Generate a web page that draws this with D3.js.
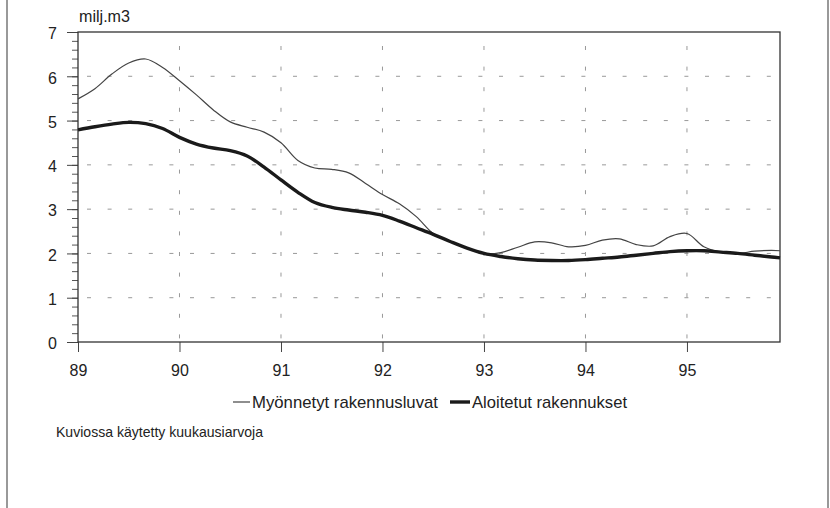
<!DOCTYPE html>
<html><head><meta charset="utf-8">
<script src="https://cdn.jsdelivr.net/npm/d3@7"></script>
<style>
html,body{margin:0;padding:0;background:#fff;}
svg{display:block;font-family:"Liberation Sans",Arial,Helvetica,sans-serif;}
</style></head>
<body>
<svg id="c" width="830" height="508"></svg>
<script>
// Month index from Jan 1989 (0) to Dec 1995 (83)
const months = [0,2,4,6,8,10,12,14,16,18,20,22,24,26,28,30,32,34,36,38,40,42,44,46,48,50,52,54,56,58,60,62,64,66,68,70,72,74,76,78,80,82,83];
const permits = [5.49,5.72,6.05,6.30,6.39,6.20,5.90,5.58,5.24,4.97,4.85,4.74,4.50,4.10,3.93,3.90,3.82,3.58,3.33,3.12,2.83,2.45,2.27,2.12,2.00,2.02,2.14,2.26,2.24,2.15,2.18,2.30,2.33,2.20,2.17,2.38,2.45,2.15,2.03,2.00,2.05,2.07,2.06];
const starts  = [4.79,4.86,4.92,4.96,4.93,4.82,4.62,4.47,4.38,4.32,4.20,3.95,3.66,3.38,3.15,3.04,2.98,2.93,2.86,2.73,2.58,2.43,2.27,2.12,2.00,1.93,1.88,1.85,1.84,1.84,1.86,1.89,1.92,1.96,2.00,2.04,2.06,2.06,2.03,2.00,1.96,1.92,1.90];
const yearTicks = [0,12,24,36,48,60,72];
const yearLabels = ["89","90","91","92","93","94","95"];
const seriesNames = ["Myönnetyt rakennusluvat","Aloitetut rakennukset"];
const unitLabel = "milj.m3";
const footnote = "Kuviossa käytetty kuukausiarvoja";

const svg = d3.select("#c");
const L = 78, R = 780, T = 32, B = 342;
const x = d3.scaleLinear().domain([0,83]).range([L,R]);
const y = d3.scaleLinear().domain([0,7]).range([B,T]);

// outer border (vertical sides)
svg.append("line").attr("x1",7).attr("x2",7).attr("y1",0).attr("y2",508).attr("stroke","#777").attr("stroke-width",1.5);
svg.append("line").attr("x1",828).attr("x2",828).attr("y1",0).attr("y2",508).attr("stroke","#777").attr("stroke-width",1.5);

// grid
const g = svg.append("g");
g.selectAll(".hg").data(d3.range(1,7)).join("line")
  .attr("x1",L).attr("x2",R).attr("y1",d=>y(d)).attr("y2",d=>y(d))
  .attr("stroke","#999").attr("stroke-width",1).attr("stroke-dasharray","4,16.6").attr("stroke-dashoffset",-9);
g.selectAll(".vg").data(yearTicks.slice(1)).join("line")
  .attr("x1",d=>x(d)).attr("x2",d=>x(d)).attr("y1",T).attr("y2",B)
  .attr("stroke","#999").attr("stroke-width",1).attr("stroke-dasharray","4,16.6").attr("stroke-dashoffset",-14);

// y axis with minor ticks
const yMinor = d3.axisLeft(y).tickValues(d3.range(0,7.01,0.2)).tickSize(6).tickFormat("");
svg.append("g").attr("transform",`translate(${L},0)`).call(yMinor)
  .call(s=>s.select(".domain").remove())
  .call(s=>s.selectAll("line").attr("stroke","#555").attr("stroke-width",1));
const yAxis = d3.axisLeft(y).tickValues(d3.range(0,8)).tickSize(11).tickPadding(10).tickFormat(d3.format("d"));
svg.append("g").attr("transform",`translate(${L},0)`).call(yAxis)
  .call(s=>s.select(".domain").remove())
  .call(s=>s.selectAll("line").attr("stroke","#444").attr("stroke-width",1))
  .call(s=>s.selectAll("text").attr("font-size",16).attr("fill","#222").attr("font-family","Liberation Sans, Arial, sans-serif").attr("dy","0.42em"));

// x axis
const xAxis = d3.axisBottom(x).tickValues(yearTicks).tickSize(10).tickPadding(13).tickFormat((d,i)=>yearLabels[i]);
svg.append("g").attr("transform",`translate(0,${B})`).call(xAxis)
  .call(s=>s.select(".domain").remove())
  .call(s=>s.selectAll("line").attr("stroke","#444").attr("stroke-width",1))
  .call(s=>s.selectAll("text").attr("font-size",16).attr("fill","#222").attr("font-family","Liberation Sans, Arial, sans-serif"));

// frame
svg.append("rect").attr("x",L).attr("y",T).attr("width",R-L).attr("height",B-T)
  .attr("fill","none").attr("stroke","#333").attr("stroke-width",1.3);

// lines
const line = d3.line().x((d,i)=>x(months[i])).y(d=>y(d)).curve(d3.curveCatmullRom.alpha(0.5));
svg.append("path").datum(permits).attr("d",line).attr("fill","none").attr("stroke","#444").attr("stroke-width",1.2);
svg.append("path").datum(starts).attr("d",line).attr("fill","none").attr("stroke","#1a1a1a").attr("stroke-width",3.4).attr("stroke-linejoin","round");

// unit label
svg.append("text").attr("x",79).attr("y",22).attr("font-size",16).attr("fill","#222")
  .attr("textLength",51).attr("lengthAdjust","spacingAndGlyphs").text(unitLabel);

// legend
const leg = svg.append("g");
leg.append("line").attr("x1",233).attr("x2",250).attr("y1",402).attr("y2",402).attr("stroke","#444").attr("stroke-width",1.2);
leg.append("text").attr("x",252).attr("y",408).attr("font-size",17).attr("fill","#222")
  .attr("textLength",186).attr("lengthAdjust","spacingAndGlyphs").text(seriesNames[0]);
leg.append("line").attr("x1",450).attr("x2",470).attr("y1",402).attr("y2",402).attr("stroke","#1a1a1a").attr("stroke-width",3.4);
leg.append("text").attr("x",472).attr("y",408).attr("font-size",17).attr("fill","#222")
  .attr("textLength",155).attr("lengthAdjust","spacingAndGlyphs").text(seriesNames[1]);

// footnote
svg.append("text").attr("x",56).attr("y",437).attr("font-size",14.5).attr("fill","#222")
  .attr("textLength",207).attr("lengthAdjust","spacingAndGlyphs").text(footnote);
</script>
</body></html>
